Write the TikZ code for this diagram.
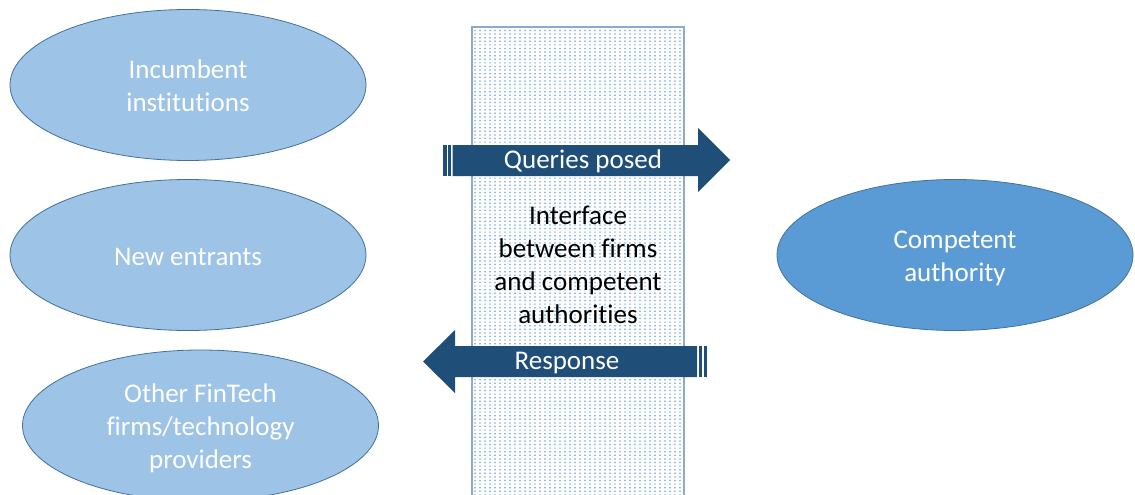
\documentclass[tikz,border=0pt]{standalone}
\usepackage{fontspec}
\setmainfont{Carlito}[Ligatures={NoCommon}]
\usetikzlibrary{shapes.geometric}
\definecolor{lightell}{HTML}{9DC3E6}
\definecolor{darkell}{HTML}{5B9BD5}
\definecolor{ellline}{HTML}{41719C}
\definecolor{arrowblue}{HTML}{1F4E79}
\definecolor{boxline}{HTML}{8EAAC8}
\definecolor{dotblue}{HTML}{5B9BD5}
\tikzset{
  bigfont/.style={font=\fontsize{27}{33}\selectfont},
  ell/.style={ellipse, draw=ellline, line width=0.8pt, minimum width=356pt, minimum height=151pt, inner sep=0pt},
  elltext/.style={text=white, align=center, bigfont, inner sep=0pt},
  lightfill/.style={fill=lightell},
  darkfill/.style={fill=darkell},
  arrowlabel/.style={text=white, bigfont, inner sep=0pt},
  arrowbody/.style={fill=arrowblue, draw=none},
}
\begin{document}
\begin{tikzpicture}[x=1pt,y=-1pt]
\useasboundingbox (0,0) rectangle (1135,495);
% ellipses
\node[ell, lightfill] (inc) at (188,85) {};
\node[elltext] (inctext) at ([yshift=-1pt]inc.center) {Incumbent\\institutions};
\node[ell, lightfill] (new) at (188,255) {};
\node[elltext] (newtext) at ([yshift=-2pt]new.center) {New entrants};
\node[ell, lightfill] (oth) at (200.5,425.5) {};
\node[elltext] (othtext) at ([yshift=-2.5pt]oth.center) {Other FinTech\\firms/technology\\providers};
\node[ell, darkfill] (ca) at (955,255) {};
\node[elltext] (catext) at ([yshift=-3pt]ca.center) {Competent\\authority};
% interface box
\node[draw=boxline, line width=1.5pt, fill=white, minimum width=212pt, minimum height=473pt, inner sep=0pt] (iface) at (578,263.5) {};
\foreach \i in {0,...,41} {
  \fill[dotblue] \foreach \j in {0,...,130} { (474.4+5*\i,29.9+3.6*\j) rectangle ++(1.2,1.2) };
}
\node[align=center, bigfont] (ifacetext) at (578,265)
  {Interface\\between firms\\and competent\\authorities};
% queries arrow
\fill[arrowbody] (452.5,145)--(698,145)--(698,128)--(730,160)--(698,192)--(698,176)--(452.5,176)--cycle;
\fill[arrowbody] (443,145) rectangle (447,176);
\fill[arrowbody] (448.3,145) rectangle (451.3,176);
\node[arrowlabel] (q) at (583,161.5) {Queries posed};
% response arrow
\fill[arrowbody] (697,346)--(455,346)--(455,330)--(423,361.5)--(455,393)--(455,377)--(697,377)--cycle;
\fill[arrowbody] (698.5,346) rectangle (702,377);
\fill[arrowbody] (703.5,346) rectangle (707,377);
\node[arrowlabel] (r) at (567,363) {Response};
\end{tikzpicture}
\end{document}
